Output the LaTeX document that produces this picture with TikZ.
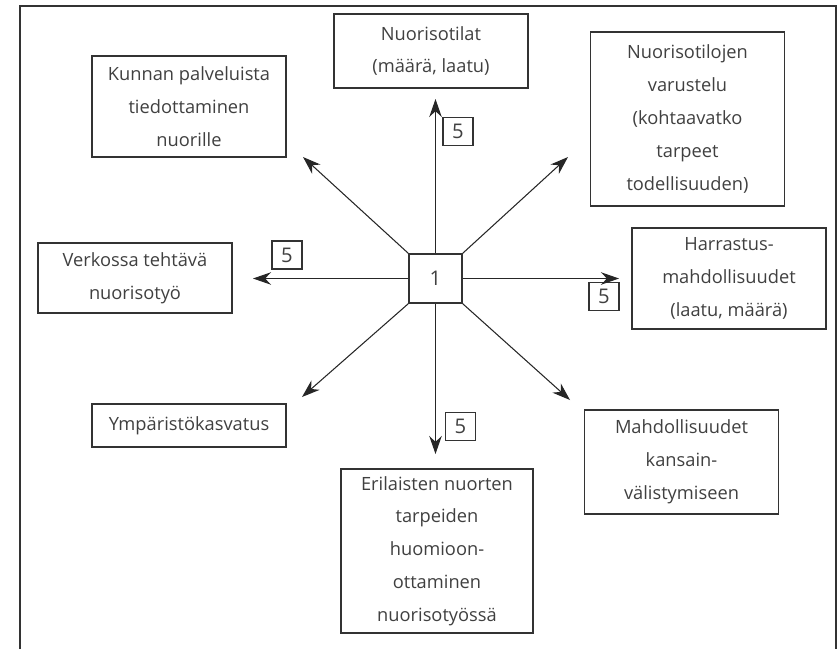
\documentclass[tikz,border=0pt]{standalone}
\usepackage{fontspec}
\setmainfont{Open Sans}
\usepackage{tikz}
\usetikzlibrary{arrows.meta}
\definecolor{ourgrey}{HTML}{404040}
\definecolor{ourline}{HTML}{333333}

\begin{document}
\begin{tikzpicture}[x=0.02cm,y=-0.02cm,>={Stealth[length=3.6mm,width=2.5mm]}]

  \tikzstyle{topic}=[draw=ourline,line width=0.7pt,align=center,text=ourgrey,
    font=\fontsize{10.4}{18.7}\selectfont,minimum width=194*0.02cm,inner sep=0]
  \tikzstyle{score}=[draw=ourline,line width=0.6pt,text=ourgrey,
    font=\fontsize{11.5}{13}\selectfont,minimum width=30*0.02cm,minimum height=28*0.02cm,inner sep=0]
  \tikzstyle{hub}=[draw=ourline,line width=0.8pt,text=ourgrey,
    font=\fontsize{11.5}{13}\selectfont,minimum width=53*0.02cm,minimum height=49*0.02cm,inner sep=0]
  \tikzstyle{link}=[->,draw=black!85,line width=0.6pt]

  \useasboundingbox (0,0) rectangle (838,649);
  \draw[ourline,line width=0.7pt] (20,649) -- (20,6) -- (836,6) -- (836,649);

  \path
  (435.5,278.5) node[hub](c){1};

  \path
  (189,106.5) node[topic,minimum height=101*0.02cm](tkunnan){Kunnan palveluista\\tiedottaminen\\nuorille}
  (431,51) node[topic,minimum height=74*0.02cm](ttilat){Nuorisotilat\\(määrä, laatu)}
  (687.5,119) node[topic,minimum height=174*0.02cm](tvarustelu){Nuorisotilojen\\varustelu\\(kohtaavatko\\tarpeet\\todellisuuden)}
  (135,278) node[topic,minimum height=70*0.02cm](tverkko){Verkossa tehtävä\\nuorisotyö}
  (729,278.5) node[topic,minimum height=101*0.02cm](tharrastus){Harrastus-\\mahdollisuudet\\(laatu, määrä)}
  (189,425.5) node[topic,minimum height=43*0.02cm](tymp){Ympäristökasvatus}
  (681.5,462) node[topic,minimum height=104*0.02cm](tkv){Mahdollisuudet\\kansain-\\välistymiseen}
  (437,551) node[topic,minimum height=164*0.02cm,minimum width=192*0.02cm](terilaiset){Erilaisten nuorten\\tarpeiden\\huomioon-\\ottaminen\\nuorisotyössä};

  \path
  (458,131.5) node[score](sup){5}
  (287,255) node[score](sleft){5}
  (604,296.5) node[score](sright){5}
  (460.5,426.5) node[score](sdown){5};

  % free ends of the arrows
  \path
  (435.5,99) coordinate (aup)
  (435.5,454) coordinate (adown)
  (253,278.5) coordinate (aleft)
  (619,278.5) coordinate (aright)
  (303,157) coordinate (anw)
  (568,157) coordinate (ane)
  (302,397) coordinate (asw)
  (570,400) coordinate (ase);

  \draw[link] (c.north)--(aup);
  \draw[link] (c.south)--(adown);
  \draw[link] (c.west)--(aleft);
  \draw[link] (c.east)--(aright);

  \draw[link] (c.north west)--(anw);
  \draw[link] (c.north east)--(ane);
  \draw[link] (c.south west)--(asw);
  \draw[link] (c.south east)--(ase);
\end{tikzpicture}
\end{document}
